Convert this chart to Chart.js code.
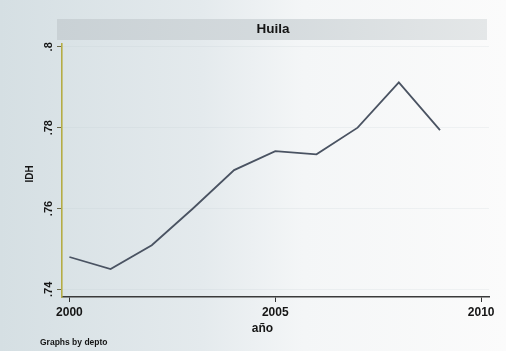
<!DOCTYPE html>
<html>
<head>
<meta charset="utf-8">
<script src="https://cdn.jsdelivr.net/npm/chart.js@4/dist/chart.umd.min.js"></script>
<style>
  html, body { margin: 0; padding: 0; background: #e6ecee; }
  #wrap { width: 506px; height: 351px; }
</style>
</head>
<body>
<div id="wrap"><canvas id="c" width="506" height="351"></canvas></div>
<script>
// Índice de Desarrollo Humano, Huila
const years = [2000, 2001, 2002, 2003, 2004, 2005, 2006, 2007, 2008, 2009];
const idh = [0.7480, 0.7450, 0.7509, 0.7600, 0.7695, 0.7742, 0.7734, 0.7800, 0.7912, 0.7794];

const xTickValues = [2000, 2005, 2010];
const yTickValues = [0.74, 0.76, 0.78, 0.80];
const yTickLabels = ['.74', '.76', '.78', '.8'];

const panelTitle = 'Huila';
const xTitle = 'año';
const yTitle = 'IDH';
const note = 'Graphs by depto';

const FONT = '"Liberation Sans", Arial, sans-serif';

const decor = {
  id: 'decor',
  beforeDraw(chart) {
    const ctx = chart.ctx;
    const W = chart.width, H = chart.height;
    ctx.save();
    const bg = ctx.createLinearGradient(0, 0, W, 0);
    bg.addColorStop(0, '#d5dfe3');
    bg.addColorStop(0.4, '#e4eaed');
    bg.addColorStop(0.6, '#f4f6f7');
    bg.addColorStop(1, '#fbfbfb');
    ctx.fillStyle = bg;
    ctx.fillRect(0, 0, W, H);

    // strip behind the panel title
    const band = ctx.createLinearGradient(57, 0, 487, 0);
    band.addColorStop(0, '#c9d1d5');
    band.addColorStop(0.5, '#d4dadd');
    band.addColorStop(1, '#e4e7e8');
    ctx.fillStyle = band;
    ctx.fillRect(57, 19, 430, 21);
    ctx.restore();
  },
  afterDraw(chart) {
    const ctx = chart.ctx;
    const yScale = chart.scales.y;
    ctx.save();
    ctx.fillStyle = '#151515';

    ctx.font = 'bold 13.5px ' + FONT;
    ctx.textAlign = 'center';
    ctx.textBaseline = 'middle';
    ctx.fillText(panelTitle, 273, 29.5);

    // vertical tick labels on the y axis
    ctx.font = 'bold 11px ' + FONT;
    yScale.ticks.forEach((t, i) => {
      const py = yScale.getPixelForValue(t.value);
      ctx.save();
      ctx.translate(49, py);
      ctx.rotate(-Math.PI / 2);
      ctx.fillText(yTickLabels[i], 0, 0);
      ctx.restore();
    });

    ctx.font = 'bold 10px ' + FONT;
    ctx.save();
    ctx.translate(30, 174);
    ctx.rotate(-Math.PI / 2);
    ctx.fillText(yTitle, 0, 0);
    ctx.restore();

    ctx.font = 'bold 12px ' + FONT;
    ctx.fillText(xTitle, 262.5, 329);

    ctx.font = 'bold 8.5px ' + FONT;
    ctx.textAlign = 'left';
    ctx.fillText(note, 40, 343);
    ctx.restore();
  }
};

new Chart(document.getElementById('c'), {
  type: 'line',
  data: {
    datasets: [{
      data: years.map((yr, i) => ({ x: yr, y: idh[i] })),
      borderColor: '#4a5362',
      borderWidth: 1.8,
      pointRadius: 0,
      tension: 0,
      fill: false
    }]
  },
  options: {
    responsive: false,
    animation: false,
    layout: { padding: { top: 44, right: 17, bottom: 15, left: 0 } },
    plugins: { legend: { display: false }, tooltip: { enabled: false } },
    scales: {
      x: {
        type: 'linear',
        min: 1999.82,
        max: 2010.19,
        afterBuildTicks: s => { s.ticks = xTickValues.map(v => ({ value: v })); },
        afterFit: s => { s.height = 39; },
        ticks: {
          font: { family: FONT, size: 12, weight: 'bold' },
          color: '#151515',
          padding: 3,
          maxRotation: 0,
          callback: v => String(v)
        },
        grid: { drawOnChartArea: false, tickLength: 5, tickColor: '#333', tickWidth: 1 },
        border: { color: '#3a3a3a', width: 1.5 }
      },
      y: {
        type: 'linear',
        min: 0.7381,
        max: 0.8007,
        afterBuildTicks: s => { s.ticks = yTickValues.map(v => ({ value: v })); },
        afterFit: s => { s.width = 62; },
        ticks: { display: false },
        grid: {
          color: 'rgba(190,200,206,0.18)',
          lineWidth: 1,
          tickLength: 5,
          tickColor: '#6b6a4e',
          tickWidth: 1
        },
        border: { color: '#b5ad45', width: 1.6 }
      }
    }
  },
  plugins: [decor]
});
</script>
</body>
</html>
